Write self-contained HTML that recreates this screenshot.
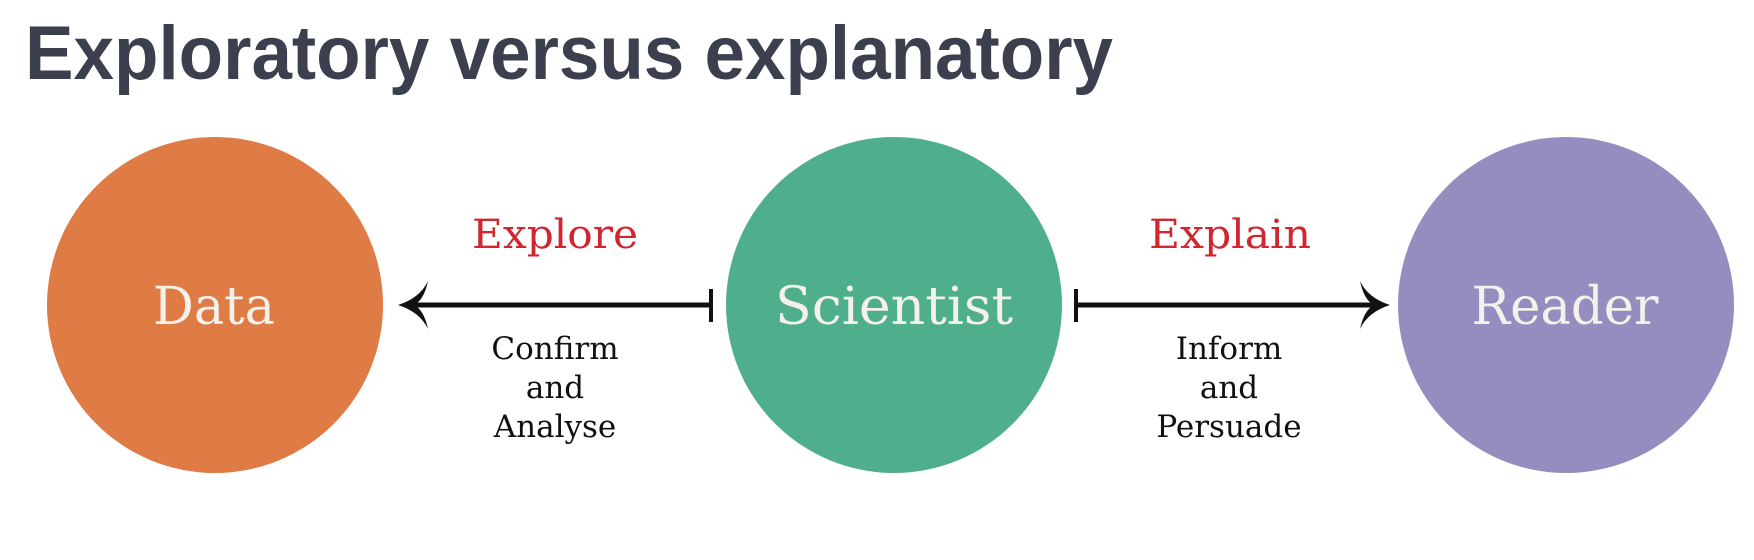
<!DOCTYPE html>
<html><head><meta charset="utf-8"><style>
html,body{margin:0;padding:0;background:#fff;width:1754px;height:560px;overflow:hidden}
svg{display:block}
</style></head><body>
<svg width="1754" height="560" viewBox="0 0 1754 560">
<text x="25" y="79" font-family="Liberation Sans, sans-serif" font-weight="bold" font-size="76" fill="#3b3f4e" textLength="1088" lengthAdjust="spacingAndGlyphs">Exploratory versus explanatory</text>
<circle cx="215" cy="305" r="168" fill="#df7b44"/>
<circle cx="894" cy="305" r="168" fill="#4faf8d"/>
<circle cx="1566" cy="305" r="168" fill="#958cc0"/>
<g font-family="DejaVu Serif, serif" fill="#f4f0ea" font-size="52" text-anchor="middle">
<text x="214" y="324" textLength="122" lengthAdjust="spacingAndGlyphs">Data</text>
<text x="894" y="324" textLength="238" lengthAdjust="spacingAndGlyphs">Scientist</text>
<text x="1565" y="324" textLength="187" lengthAdjust="spacingAndGlyphs">Reader</text>
</g>
<g>
<line x1="410" y1="305" x2="711" y2="305" stroke="#111" stroke-width="5"/>
<line x1="711" y1="289" x2="711" y2="322" stroke="#111" stroke-width="4"/>
<path d="M428 281 Q420 298 398 305 Q420 312 428 329 Q424 310 414 305 Q424 300 428 281 Z" fill="#111"/>
</g>
<g>
<line x1="1076" y1="305" x2="1378" y2="305" stroke="#111" stroke-width="5"/>
<line x1="1076" y1="289" x2="1076" y2="322" stroke="#111" stroke-width="4"/>
<path d="M1360 281 Q1368 298 1390 305 Q1368 312 1360 329 Q1364 310 1374 305 Q1364 300 1360 281 Z" fill="#111"/>
</g>
<g font-family="DejaVu Serif, serif" fill="#d0262f" font-size="40" text-anchor="middle">
<text x="555" y="248" textLength="166" lengthAdjust="spacingAndGlyphs">Explore</text>
<text x="1230" y="248" textLength="162" lengthAdjust="spacingAndGlyphs">Explain</text>
</g>
<g font-family="DejaVu Serif, serif" fill="#111" font-size="31" text-anchor="middle">
<text x="555" y="359">Confirm</text>
<text x="555" y="398">and</text>
<text x="555" y="437">Analyse</text>
<text x="1229" y="359">Inform</text>
<text x="1229" y="398">and</text>
<text x="1229" y="437">Persuade</text>
</g>
</svg>
</body></html>
